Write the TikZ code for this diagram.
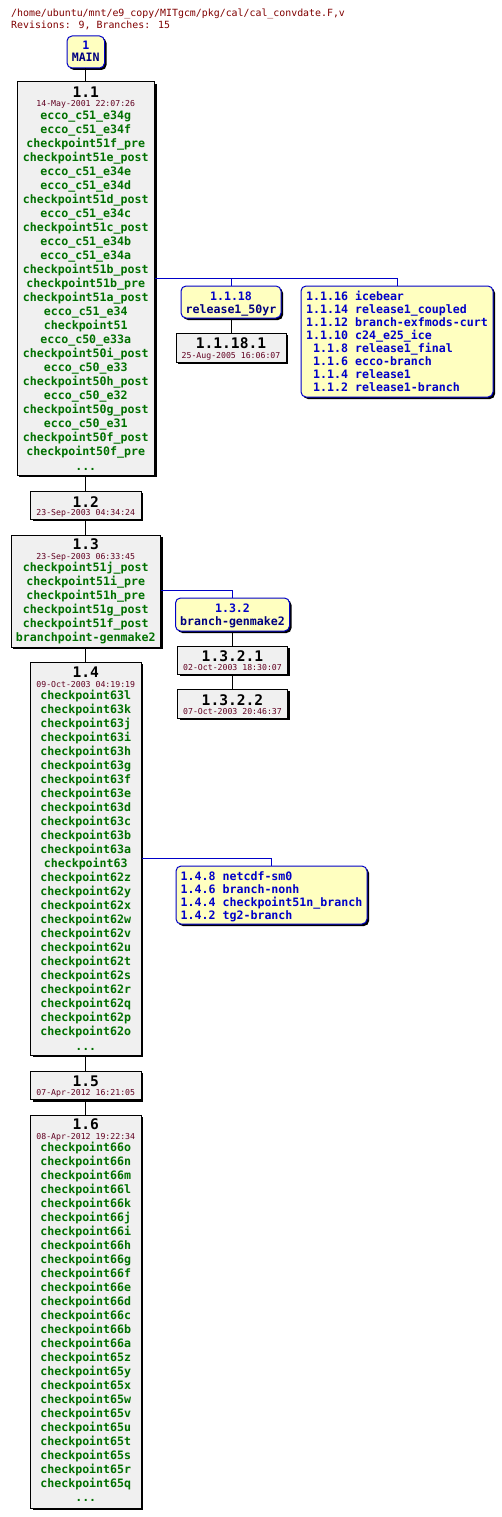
\documentclass[tikz,border=0pt]{standalone}
\usepackage{fontspec}
\usetikzlibrary{fit,shadows}
\newfontfamily\cvsmono{DejaVu Sans Mono}
\definecolor{titlecol}{RGB}{128,0,0}
\definecolor{datecol}{RGB}{96,0,32}
\definecolor{taggreen}{RGB}{0,112,0}
\definecolor{brblue}{RGB}{0,0,200}
\definecolor{brnavy}{RGB}{0,0,128}
\definecolor{revfill}{RGB}{240,240,240}
\definecolor{brfill}{RGB}{255,255,192}
\tikzset{
  revbox/.style={draw=black, line width=1pt, fill=revfill, inner sep=0pt,
    general shadow={fill=black, shadow xshift=2pt, shadow yshift=-2pt}},
  brbox/.style={draw=brblue, line width=1pt, fill=brfill, inner sep=0pt, rounded corners=5pt,
    general shadow={fill=black, shadow xshift=2pt, shadow yshift=-2pt}},
  titletxt/.style={font=\cvsmono\fontsize{9.9}{12}\selectfont, text=titlecol, inner sep=0pt, text height=7.2pt, text depth=0pt, anchor=west},
  revnum/.style={font=\cvsmono\bfseries\fontsize{14.6}{16}\selectfont, text=black, inner sep=0pt, text height=10.6pt, text depth=0pt},
  revdate/.style={font=\cvsmono\fontsize{8.2}{10}\selectfont, text=datecol, inner sep=0pt, text height=6pt, text depth=0pt},
  tagtxt/.style={font=\cvsmono\bfseries\fontsize{11.6}{14}\selectfont, text=taggreen, inner sep=0pt, text height=8.4pt, text depth=0pt},
  moretxt/.style={font=\cvsmono\bfseries\fontsize{11.6}{14}\selectfont, text=taggreen, inner sep=0pt, anchor=base},
  brnum/.style={font=\cvsmono\bfseries\fontsize{11.6}{14}\selectfont, text=brblue, inner sep=0pt, text height=8.4pt, text depth=0pt},
  brname/.style={font=\cvsmono\bfseries\fontsize{11.6}{14}\selectfont, text=brnavy, inner sep=0pt, text height=8.4pt, text depth=0pt},
  brlist/.style={font=\cvsmono\bfseries\fontsize{11.6}{14}\selectfont, text=brblue, inner sep=0pt, text height=8.4pt, text depth=0pt, anchor=west},
  conn/.style={draw=black, line width=1pt},
  brconn/.style={draw=brblue, line width=1pt},
}
\begin{document}
\begin{tikzpicture}[x=1pt,y=-1pt]
\fill[white] (0,0) rectangle (502,1517);
\useasboundingbox (0,0) rectangle (502,1517);

\node[titletxt] (title1) at (11,13) {/home/ubuntu/mnt/e9\_copy/MITgcm/pkg/cal/cal\_convdate.F,v};
\node[titletxt] (title2) at (11,25) {Revisions: 9, Branches: 15};

% MAIN
\node[brbox, fit={(67,36) (104.5,68)}] (main) {};
\node[brnum] (mainnum) at (85.75,45) {1};
\node[brname] (mainname) at (85.75,57) {MAIN};

% 1.1
\node[revbox, fit={(17,82) (154.5,475)}] (r11) {};
\node[revnum] (r11n) at (85.75,92) {1.1};
\node[revdate] (r11d) at (85.75,104) {14-May-2001 22:07:26};
\foreach \t [count=\i from 0] in {ecco\_c51\_e34g,ecco\_c51\_e34f,checkpoint51f\_pre,checkpoint51e\_post,ecco\_c51\_e34e,ecco\_c51\_e34d,checkpoint51d\_post,ecco\_c51\_e34c,checkpoint51c\_post,ecco\_c51\_e34b,ecco\_c51\_e34a,checkpoint51b\_post,checkpoint51b\_pre,checkpoint51a\_post,ecco\_c51\_e34,checkpoint51,ecco\_c50\_e33a,checkpoint50i\_post,ecco\_c50\_e33,checkpoint50h\_post,ecco\_c50\_e32,checkpoint50g\_post,ecco\_c50\_e31,checkpoint50f\_post,checkpoint50f\_pre}
  \node[tagtxt] (t11-\i) at (85.75,{115.7+14*\i}) {\t};
\node[moretxt] (r11m) at (85.75,470) {...};

% branches of 1.1
\node[brbox, fit={(181,286) (281,318)}] (b1118) {};
\node[brnum] (b1118n) at (231,296) {1.1.18};
\node[brname] (b1118t) at (231,309) {release1\_50yr};
\node[revbox, fit={(176,333) (286,362)}] (r11181) {};
\node[revnum] (r11181n) at (231,343) {1.1.18.1};
\node[revdate] (r11181d) at (231,355) {25-Aug-2005 16:06:07};

\node[brbox, fit={(301,286) (493,397)}] (b11m) {};
\foreach \t [count=\i from 0] in {1.1.16 icebear,1.1.14 release1\_coupled,1.1.12 branch-exfmods-curt,1.1.10 c24\_e25\_ice,\hphantom{1}1.1.8 release1\_final,\hphantom{1}1.1.6 ecco-branch,\hphantom{1}1.1.4 release1,\hphantom{1}1.1.2 release1-branch}
  \node[brlist] (b11m-\i) at (306,{296+13*\i}) {\t};

\coordinate (j11a) at (231,278);
\coordinate (j11b) at (397,278);
\draw[brconn] (r11.east |- j11a) -- (j11b) -- (b11m.north);
\draw[brconn] (j11a) -- (b1118.north);
\draw[conn] (b1118.south) -- (r11181.north);

% 1.2
\node[revbox, fit={(30.5,491) (141,519)}] (r12) {};
\node[revnum] (r12n) at (85.75,501.7) {1.2};
\node[revdate] (r12d) at (85.75,512) {23-Sep-2003 04:34:24};

% 1.3
\node[revbox, fit={(11,535) (160.5,647)}] (r13) {};
\node[revnum] (r13n) at (85.75,544.3) {1.3};
\node[revdate] (r13d) at (85.75,556) {23-Sep-2003 06:33:45};
\foreach \t [count=\i from 0] in {checkpoint51j\_post,checkpoint51i\_pre,checkpoint51h\_pre,checkpoint51g\_post,checkpoint51f\_post,branchpoint-genmake2}
  \node[tagtxt] (t13-\i) at (85.75,{567.3+14*\i}) {\t};

\node[brbox, fit={(175.5,598) (289.5,631)}] (b132) {};
\node[brnum] (b132n) at (232.5,608.3) {1.3.2};
\node[brname] (b132t) at (232.5,621) {branch-genmake2};
\node[revbox, fit={(177.5,646) (287.5,674)}] (r1321) {};
\node[revnum] (r1321n) at (232.5,656) {1.3.2.1};
\node[revdate] (r1321d) at (232.5,667) {02-Oct-2003 18:30:07};
\node[revbox, fit={(177.5,689) (287.5,718)}] (r1322) {};
\node[revnum] (r1322n) at (232.5,700) {1.3.2.2};
\node[revdate] (r1322d) at (232.5,711) {07-Oct-2003 20:46:37};

\coordinate (j13) at (232.5,590);
\draw[brconn] (r13.east |- j13) -- (j13) -- (b132.north);
\draw[conn] (b132.south) -- (r1321.north);
\draw[conn] (r1321.south) -- (r1322.north);

% 1.4
\node[revbox, fit={(30.5,662) (141,1055)}] (r14) {};
\node[revnum] (r14n) at (85.75,672.3) {1.4};
\node[revdate] (r14d) at (85.75,684) {09-Oct-2003 04:19:19};
\foreach \t [count=\i from 0] in {checkpoint63l,checkpoint63k,checkpoint63j,checkpoint63i,checkpoint63h,checkpoint63g,checkpoint63f,checkpoint63e,checkpoint63d,checkpoint63c,checkpoint63b,checkpoint63a,checkpoint63,checkpoint62z,checkpoint62y,checkpoint62x,checkpoint62w,checkpoint62v,checkpoint62u,checkpoint62t,checkpoint62s,checkpoint62r,checkpoint62q,checkpoint62p,checkpoint62o}
  \node[tagtxt] (t14-\i) at (85.75,{695.7+14*\i}) {\t};
\node[moretxt] (r14m) at (85.75,1050) {...};

\node[brbox, fit={(176,866) (367,924)}] (b14m) {};
\foreach \t [count=\i from 0] in {1.4.8 netcdf-sm0,1.4.6 branch-nonh,1.4.4 checkpoint51n\_branch,1.4.2 tg2-branch}
  \node[brlist] (b14m-\i) at (180.5,{876+13*\i}) {\t};
\coordinate (j14) at (271.5,858.3);
\draw[brconn] (r14.east |- j14) -- (j14) -- (b14m.north);

% 1.5
\node[revbox, fit={(30.5,1071) (141,1099.5)}] (r15) {};
\node[revnum] (r15n) at (85.75,1081) {1.5};
\node[revdate] (r15d) at (85.75,1092.3) {07-Apr-2012 16:21:05};

% 1.6
\node[revbox, fit={(30.5,1115) (141,1508)}] (r16) {};
\node[revnum] (r16n) at (85.75,1124.3) {1.6};
\node[revdate] (r16d) at (85.75,1136) {08-Apr-2012 19:22:34};
\foreach \t [count=\i from 0] in {checkpoint66o,checkpoint66n,checkpoint66m,checkpoint66l,checkpoint66k,checkpoint66j,checkpoint66i,checkpoint66h,checkpoint66g,checkpoint66f,checkpoint66e,checkpoint66d,checkpoint66c,checkpoint66b,checkpoint66a,checkpoint65z,checkpoint65y,checkpoint65x,checkpoint65w,checkpoint65v,checkpoint65u,checkpoint65t,checkpoint65s,checkpoint65r,checkpoint65q}
  \node[tagtxt] (t16-\i) at (85.75,{1147.3+14*\i}) {\t};
\node[moretxt] (r16m) at (85.75,1501.5) {...};

% trunk
\draw[conn] (main.south) -- (r11.north);
\draw[conn] (r11.south) -- (r12.north);
\draw[conn] (r12.south) -- (r13.north);
\draw[conn] (r13.south) -- (r14.north);
\draw[conn] (r14.south) -- (r15.north);
\draw[conn] (r15.south) -- (r16.north);
\end{tikzpicture}
\end{document}
